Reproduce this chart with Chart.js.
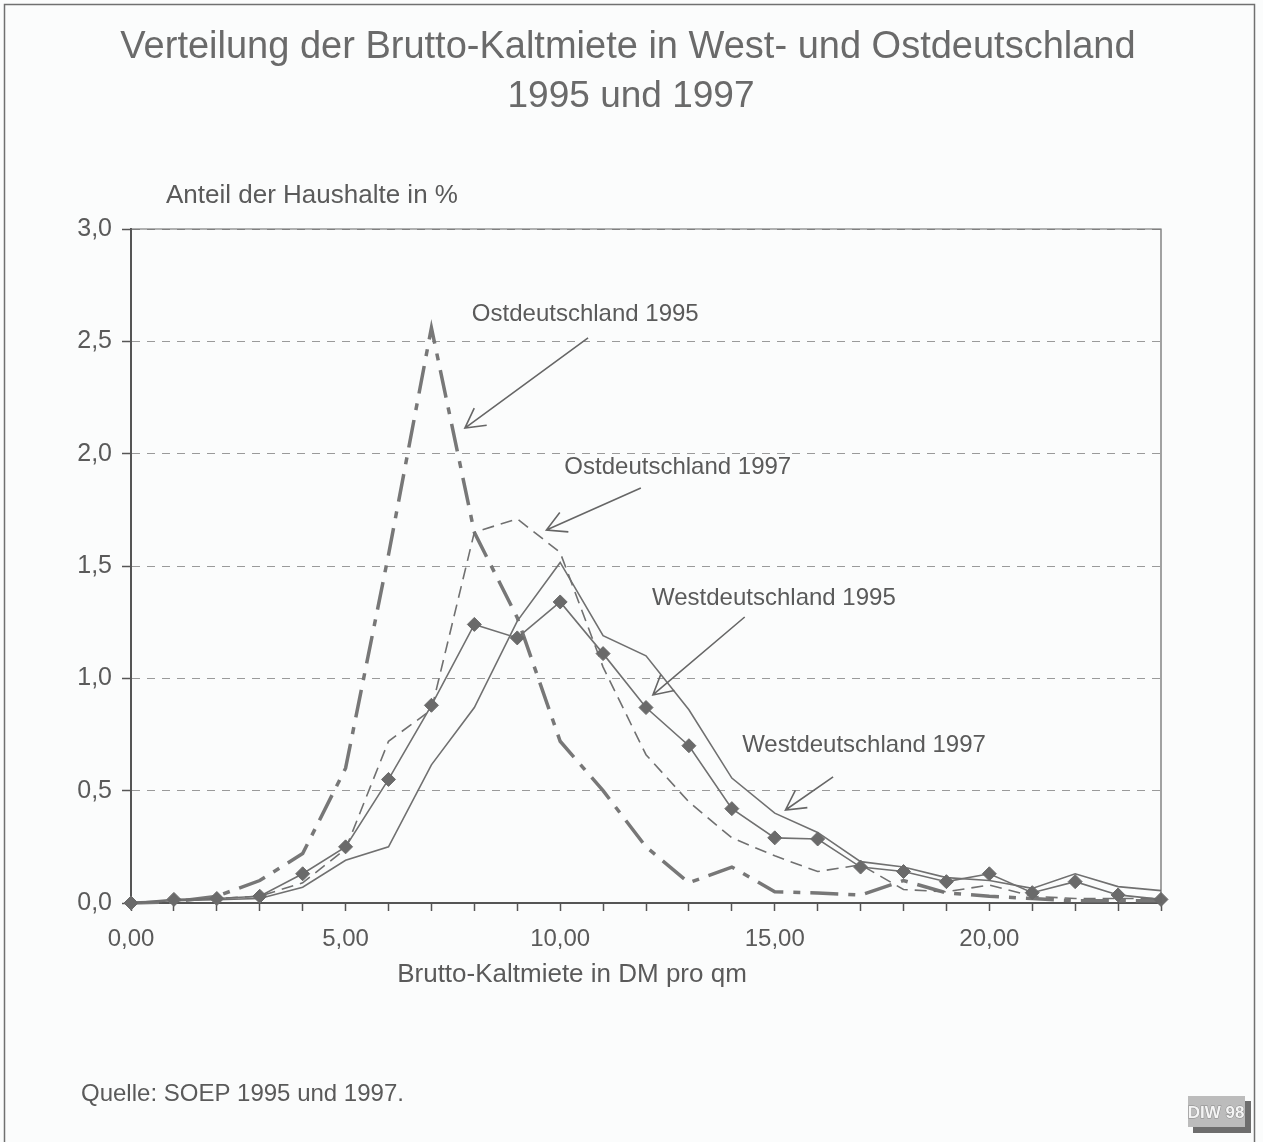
<!DOCTYPE html>
<html lang="de">
<head>
<meta charset="utf-8">
<title>Verteilung der Brutto-Kaltmiete</title>
<script src="https://cdn.jsdelivr.net/npm/chart.js@4.4.1/dist/chart.umd.min.js"></script>
<style>
  html, body { margin: 0; padding: 0; background: #fbfcfc; }
  #miete { display: block; }
</style>
</head>
<body>
<canvas id="miete" width="1263" height="1142"></canvas>
<script>
// Brutto-Kaltmiete in DM pro qm (x) und Anteil der Haushalte in % (y)
const mieteDM = [0, 1, 2, 3, 4, 5, 6, 7, 8, 9, 10, 11, 12, 13, 14, 15, 16, 17, 18, 19, 20, 21, 22, 23, 24];
const west1995 = [0, 0.016, 0.02, 0.03, 0.13, 0.25, 0.55, 0.88, 1.24, 1.18, 1.34, 1.11, 0.87, 0.70, 0.42, 0.29, 0.285, 0.16, 0.14, 0.095, 0.13, 0.046, 0.095, 0.036, 0.016];
const west1997 = [0, 0.01, 0.015, 0.02, 0.07, 0.19, 0.25, 0.615, 0.87, 1.255, 1.516, 1.19, 1.10, 0.86, 0.556, 0.40, 0.314, 0.184, 0.16, 0.113, 0.10, 0.065, 0.13, 0.073, 0.055];
const ost1995 = [0, 0.005, 0.03, 0.10, 0.22, 0.60, 1.55, 2.56, 1.65, 1.27, 0.72, 0.50, 0.25, 0.09, 0.16, 0.05, 0.045, 0.035, 0.10, 0.045, 0.03, 0.02, 0.01, 0.01, 0.01];
const ost1997 = [0, 0.01, 0.02, 0.03, 0.09, 0.24, 0.72, 0.86, 1.65, 1.71, 1.56, 1.05, 0.66, 0.45, 0.29, 0.21, 0.14, 0.17, 0.06, 0.05, 0.08, 0.03, 0.02, 0.02, 0.02];

const xTickLabels = ["0,00", "5,00", "10,00", "15,00", "20,00"];
const yTickLabels = ["0,0", "0,5", "1,0", "1,5", "2,0", "2,5", "3,0"];

// Beschriftungen im Diagramm (Datenkoordinaten: Textmitte/Grundlinie, Pfeil von -> nach)
const labelTexts = ["Ostdeutschland 1995", "Ostdeutschland 1997", "Westdeutschland 1995", "Westdeutschland 1997"];
const labelPos = [[10.585, 2.59], [12.74, 1.911], [14.98, 1.325], [17.08, 0.67]];
const arrowFrom = [[10.65, 2.515], [11.88, 1.847], [14.3, 1.273], [16.36, 0.561]];
const arrowTo = [[7.78, 2.114], [9.68, 1.66], [12.16, 0.926], [15.25, 0.414]];

const FONT = "'Liberation Sans', Arial, sans-serif";
const LINIE = "#707070";
const TEXT = "#5a5a5a";

const toPoints = (ys) => mieteDM.map((x, i) => ({ x: x, y: ys[i] }));

function pfeil(ctx, x1, y1, x2, y2) {
  const ang = Math.atan2(y2 - y1, x2 - x1);
  const len = 22;
  const spread = 0.5;
  ctx.beginPath();
  ctx.moveTo(x1, y1);
  ctx.lineTo(x2, y2);
  ctx.moveTo(x2 - len * Math.cos(ang - spread), y2 - len * Math.sin(ang - spread));
  ctx.lineTo(x2, y2);
  ctx.lineTo(x2 - len * Math.cos(ang + spread), y2 - len * Math.sin(ang + spread));
  ctx.stroke();
}

const rahmenUndTexte = {
  id: "rahmenUndTexte",
  afterDraw(chart) {
    const { ctx, chartArea: ca, scales } = chart;
    const xs = scales.x;
    const ys = scales.y;
    ctx.save();

    // Außenrahmen
    ctx.strokeStyle = "#707070";
    ctx.lineWidth = 1.5;
    ctx.strokeRect(4.5, 4.5, 1250, 1140);

    // obere und rechte Kante der Zeichenfläche
    ctx.lineWidth = 1.2;
    ctx.strokeStyle = "#666";
    ctx.beginPath();
    ctx.moveTo(ca.left, ca.top);
    ctx.lineTo(ca.right, ca.top);
    ctx.lineTo(ca.right, ca.bottom);
    ctx.stroke();

    // Titel
    ctx.fillStyle = "#6a6a6a";
    ctx.textAlign = "center";
    ctx.textBaseline = "alphabetic";
    ctx.font = "38px " + FONT;
    ctx.fillText("Verteilung der Brutto-Kaltmiete in West- und Ostdeutschland", 628, 58);
    ctx.font = "37px " + FONT;
    ctx.fillText("1995 und 1997", 631, 107);

    // Achsentitel
    ctx.fillStyle = TEXT;
    ctx.font = "26px " + FONT;
    ctx.textAlign = "left";
    ctx.fillText("Anteil der Haushalte in %", 166, 203);
    ctx.textAlign = "center";
    ctx.fillText("Brutto-Kaltmiete in DM pro qm", 572, 982);

    // Quelle
    ctx.font = "24px " + FONT;
    ctx.textAlign = "left";
    ctx.fillText("Quelle: SOEP 1995 und 1997.", 81, 1101);

    // Reihenbeschriftungen mit Pfeilen
    ctx.font = "24px " + FONT;
    ctx.textAlign = "center";
    labelTexts.forEach((t, i) => {
      ctx.fillText(t, xs.getPixelForValue(labelPos[i][0]), ys.getPixelForValue(labelPos[i][1]));
    });
    ctx.strokeStyle = "#666";
    ctx.lineWidth = 1.6;
    arrowFrom.forEach((p, i) => {
      pfeil(ctx,
        xs.getPixelForValue(p[0]), ys.getPixelForValue(p[1]),
        xs.getPixelForValue(arrowTo[i][0]), ys.getPixelForValue(arrowTo[i][1]));
    });

    // DIW-Logo
    ctx.fillStyle = "#6e6e6e";
    ctx.fillRect(1193, 1101, 58, 32);
    ctx.fillStyle = "#bcbcbc";
    ctx.fillRect(1188, 1096, 57, 31);
    ctx.font = "bold 17px " + FONT;
    ctx.textAlign = "center";
    ctx.lineWidth = 1;
    ctx.strokeStyle = "#8a8a8a";
    ctx.strokeText("DIW 98", 1216, 1118);
    ctx.fillStyle = "#f4f4f4";
    ctx.fillText("DIW 98", 1216, 1118);

    ctx.restore();
  },
};

const _data = {
  datasets: [
    {
      label: "Westdeutschland 1995",
      data: toPoints(west1995),
      borderColor: LINIE,
      borderWidth: 1.6,
      pointStyle: "rectRot",
      pointRadius: 7,
      pointBackgroundColor: "#6a6a6a",
      pointBorderColor: "#6a6a6a",
      pointBorderWidth: 1,
      clip: false,
    },
    {
      label: "Westdeutschland 1997",
      data: toPoints(west1997),
      borderColor: LINIE,
      borderWidth: 1.6,
      pointRadius: 0,
      clip: false,
    },
    {
      label: "Ostdeutschland 1997",
      data: toPoints(ost1997),
      borderColor: LINIE,
      borderWidth: 1.6,
      borderDash: [12, 7],
      pointRadius: 0,
      clip: false,
    },
    {
      label: "Ostdeutschland 1995",
      data: toPoints(ost1995),
      borderColor: "#777",
      borderWidth: 3.5,
      borderDash: [28, 10, 7, 10],
      pointRadius: 0,
      clip: false,
    },
  ],
};

const _config = {
  type: "line",
  data: _data,
  plugins: [rahmenUndTexte],
  options: {
    responsive: false,
    animation: false,
    layout: {
      padding: { top: 229, right: 102, bottom: 179, left: 0 },
    },
    elements: { line: { tension: 0 } },
    plugins: {
      legend: { display: false },
      title: { display: false },
      tooltip: { enabled: false },
    },
    scales: {
      x: {
        type: "linear",
        min: 0,
        max: 24,
        afterFit: (s) => { s.height = 60; },
        border: { color: "#555", width: 2 },
        grid: { drawOnChartArea: false, tickLength: 8, tickColor: "#555", tickWidth: 1.5 },
        ticks: {
          stepSize: 1,
          autoSkip: false,
          maxRotation: 0,
          padding: 14,
          color: TEXT,
          font: { family: FONT, size: 24 },
          callback: (v) => (v % 5 === 0 ? xTickLabels[v / 5] : ""),
        },
      },
      y: {
        min: 0,
        max: 3,
        afterFit: (s) => { s.width = 131; },
        border: { color: "#555", width: 2, dash: [8, 7] },
        grid: { color: "#9a9a9a", lineWidth: 1, tickLength: 9, tickColor: "#555", tickWidth: 1.5 },
        ticks: {
          stepSize: 0.5,
          padding: 10,
          color: TEXT,
          font: { family: FONT, size: 25 },
          callback: (v) => yTickLabels[Math.round(v * 2)],
        },
      },
    },
  },
};

new Chart(document.getElementById("miete"), _config);
</script>
</body>
</html>
